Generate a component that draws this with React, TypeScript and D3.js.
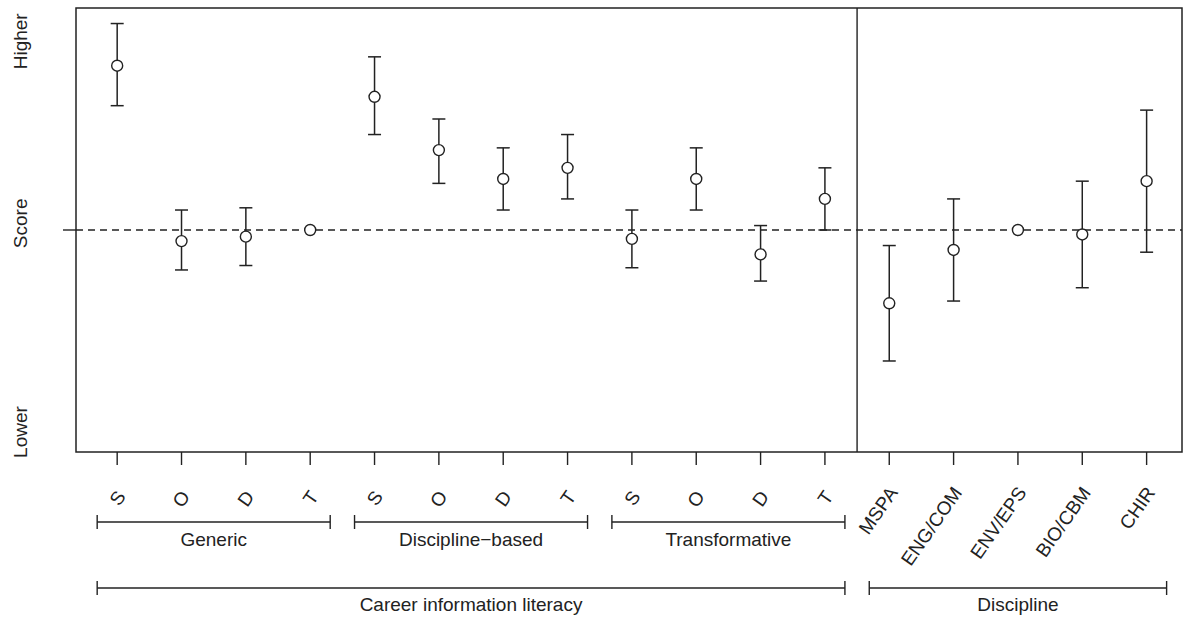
import React from 'react'
import * as d3 from 'd3'

const width = 1184
const height = 617
const frame = { left: 76, right: 1182, top: 8, bottom: 452 }

// tick labels, left to right
const labels = ['S', 'O', 'D', 'T', 'S', 'O', 'D', 'T', 'S', 'O', 'D', 'T', 'MSPA', 'ENG/COM', 'ENV/EPS', 'BIO/CBM', 'CHIR']
// point estimates and interval ends (relative score, 0 = reference)
const estimates = [0.74, -0.05, -0.03, 0, 0.6, 0.36, 0.23, 0.28, -0.04, 0.23, -0.11, 0.14, -0.33, -0.09, 0, -0.02, 0.22]
const upper = [0.93, 0.09, 0.1, null, 0.78, 0.5, 0.37, 0.43, 0.09, 0.37, 0.02, 0.28, -0.07, 0.14, null, 0.22, 0.54]
const lower = [0.56, -0.18, -0.16, null, 0.43, 0.21, 0.09, 0.14, -0.17, 0.09, -0.23, 0, -0.59, -0.32, null, -0.26, -0.1]

const subGroups = [
  { name: 'Generic', from: 1, to: 4 },
  { name: 'Discipline\u2212based', from: 5, to: 8 },
  { name: 'Transformative', from: 9, to: 12 },
]
const mainGroups = [
  { name: 'Career information literacy', from: 1, to: 12 },
  { name: 'Discipline', from: 13, to: 17 },
]
const yLabels = [
  { text: 'Higher', at: 0.85 },
  { text: 'Score', at: 0.03 },
  { text: 'Lower', at: -0.91 },
]

const ink = '#222'
const font = 'Liberation Sans, Arial, sans-serif'

function Bracket({ x1, x2, y, label, ly }) {
  return (
    <g stroke={ink} strokeWidth={1.4}>
      <line x1={x1} x2={x2} y1={y} y2={y} />
      <line x1={x1} x2={x1} y1={y - 7} y2={y + 7} />
      <line x1={x2} x2={x2} y1={y - 7} y2={y + 7} />
      <text
        x={(x1 + x2) / 2}
        y={ly}
        stroke="none"
        fill={ink}
        fontSize={19}
        fontFamily={font}
        textAnchor="middle"
        dominantBaseline="central"
      >
        {label}
      </text>
    </g>
  )
}

export default function App() {
  const x = d3.scaleLinear().domain([0.36, 17.55]).range([frame.left, frame.right])
  const y = d3.scaleLinear().domain([-1, 1]).range([frame.bottom, frame.top])
  const idx = d3.range(1, labels.length + 1)

  return (
    <svg width={width} height={height} style={{ position: 'absolute', left: 0, top: 0, background: 'white' }}>
      {/* reference line */}
      <line
        x1={frame.left}
        x2={frame.right}
        y1={y(0)}
        y2={y(0)}
        stroke={ink}
        strokeWidth={1.3}
        strokeDasharray="7,5"
      />
      {/* divider between the two blocks */}
      <line x1={x(12.5)} x2={x(12.5)} y1={frame.top} y2={frame.bottom} stroke={ink} strokeWidth={1.4} />
      <rect
        x={frame.left}
        y={frame.top}
        width={frame.right - frame.left}
        height={frame.bottom - frame.top}
        fill="none"
        stroke={ink}
        strokeWidth={1.5}
      />

      {/* error bars */}
      {idx.map((i) => {
        const k = i - 1
        if (upper[k] == null) return null
        return (
          <g key={'e' + i} stroke={ink} strokeWidth={1.5}>
            <line x1={x(i)} x2={x(i)} y1={y(upper[k])} y2={y(lower[k])} />
            <line x1={x(i) - 6.5} x2={x(i) + 6.5} y1={y(upper[k])} y2={y(upper[k])} />
            <line x1={x(i) - 6.5} x2={x(i) + 6.5} y1={y(lower[k])} y2={y(lower[k])} />
          </g>
        )
      })}
      {idx.map((i) => (
        <circle key={'p' + i} cx={x(i)} cy={y(estimates[i - 1])} r={5.5} fill="white" stroke={ink} strokeWidth={1.4} />
      ))}

      {/* x ticks and rotated labels */}
      {idx.map((i) => (
        <g key={'t' + i}>
          <line x1={x(i)} x2={x(i)} y1={frame.bottom} y2={frame.bottom + 13} stroke={ink} strokeWidth={1.4} />
          <text
            transform={`translate(${x(i) + 4},${i > 12 ? 489 : 493}) rotate(-55)`}
            fill={ink}
            fontSize={19}
            fontFamily={font}
            textAnchor="end"
            dominantBaseline="central"
          >
            {labels[i - 1]}
          </text>
        </g>
      ))}

      {/* y axis */}
      <line x1={frame.left - 13} x2={frame.left} y1={y(0)} y2={y(0)} stroke={ink} strokeWidth={1.4} />
      {yLabels.map((d) => (
        <text
          key={d.text}
          transform={`translate(20,${y(d.at)}) rotate(-90)`}
          fill={ink}
          fontSize={19}
          fontFamily={font}
          textAnchor="middle"
          dominantBaseline="central"
        >
          {d.text}
        </text>
      ))}

      {subGroups.map((g) => (
        <Bracket key={g.name} x1={x(g.from) - 20} x2={x(g.to) + 20} y={522} label={g.name} ly={539} />
      ))}
      {mainGroups.map((g) => (
        <Bracket key={g.name} x1={x(g.from) - 20} x2={x(g.to) + 20} y={588} label={g.name} ly={604} />
      ))}
    </svg>
  )
}
